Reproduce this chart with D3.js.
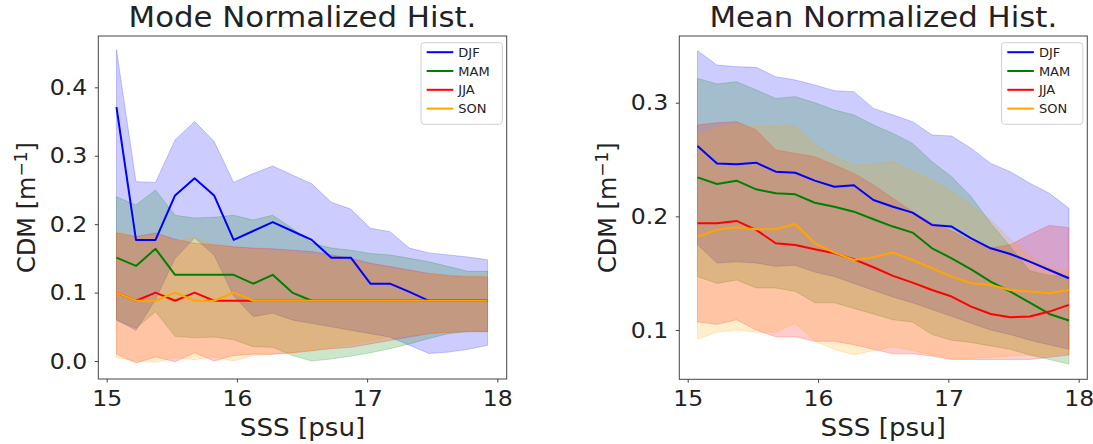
<!DOCTYPE html>
<html><head><meta charset="utf-8">
<script src="https://cdn.jsdelivr.net/npm/d3@7"></script>
<style>
body{margin:0;background:#fff}
svg{display:block}
text{font-family:"DejaVu Sans",sans-serif;fill:#222}
</style>
</head><body>
<svg id="c" width="1093" height="444"></svg>
<script>
// ---------- data ----------
const sss = [15.075,15.225,15.375,15.525,15.675,15.825,15.975,16.125,16.275,16.425,16.575,16.725,16.875,17.025,17.175,17.325,17.475,17.625,17.775,17.925];
const seasons = ["DJF","MAM","JJA","SON"];
const seasonColors = ["#0000ff","#008000","#ff0000","#ffa500"];
const xTicks = [15,16,17,18];
const modeTicks = [0.0,0.1,0.2,0.3,0.4];
const meanTicks = [0.1,0.2,0.3];

// Mode normalized histogram
const modeDJF   = [0.371,0.177,0.177,0.242,0.267,0.242,0.177,0.190,0.203,0.190,0.177,0.151,0.151,0.113,0.113,0.101,0.088,0.088,0.088,0.088];
const modeDJFhi = [0.455,0.262,0.261,0.323,0.350,0.321,0.261,0.274,0.285,0.272,0.259,0.232,0.222,0.194,0.189,0.165,0.158,0.155,0.152,0.148];
const modeDJFlo = [0.060,0.045,0.090,0.150,0.180,0.155,0.095,0.065,0.070,0.060,0.055,0.050,0.045,0.040,0.035,0.023,0.011,0.013,0.017,0.023];
const modeMAM   = [0.151,0.139,0.164,0.126,0.126,0.126,0.126,0.113,0.126,0.100,0.088,0.088,0.088,0.088,0.088,0.088,0.088,0.088,0.088,0.088];
const modeMAMhi = [0.240,0.228,0.250,0.213,0.209,0.210,0.213,0.206,0.213,0.194,0.172,0.165,0.162,0.157,0.155,0.150,0.145,0.138,0.131,0.131];
const modeMAMlo = [0.060,0.048,0.072,0.036,0.034,0.035,0.031,0.021,0.020,0.008,0.000,0.003,0.007,0.012,0.018,0.025,0.033,0.040,0.043,0.043];
const modeJJA   = [0.100,0.088,0.100,0.088,0.100,0.088,0.088,0.088,0.088,0.088,0.088,0.088,0.088,0.088,0.088,0.088,0.088,0.088,0.088,0.088];
const modeJJAhi = [0.187,0.182,0.187,0.178,0.172,0.170,0.167,0.165,0.164,0.162,0.160,0.155,0.150,0.143,0.138,0.133,0.128,0.125,0.123,0.123];
const modeJJAlo = [0.010,-0.003,0.006,-0.001,0.012,0.000,0.008,0.010,0.010,0.012,0.015,0.018,0.020,0.025,0.030,0.035,0.040,0.042,0.043,0.043];
const modeSON   = [0.100,0.088,0.088,0.100,0.088,0.088,0.100,0.088,0.088,0.088,0.088,0.088,0.088,0.088,0.088,0.088,0.088,0.088,0.088,0.088];
const modeSONhi = [0.190,0.180,0.185,0.175,0.180,0.170,0.165,0.163,0.160,0.158,0.155,0.150,0.145,0.140,0.135,0.130,0.127,0.125,0.125,0.126];
const modeSONlo = [0.005,0.000,-0.002,0.005,0.002,0.006,0.000,0.008,0.010,0.012,0.015,0.020,0.025,0.030,0.035,0.038,0.040,0.042,0.043,0.043];

// Mean normalized histogram
const meanDJF   = [0.262,0.2466,0.2458,0.2472,0.2393,0.2384,0.2314,0.2261,0.2273,0.2144,0.2085,0.2033,0.1924,0.191,0.1807,0.1719,0.1669,0.1602,0.1528,0.1455];
const meanDJFhi = [0.3457,0.3331,0.3317,0.3311,0.3229,0.320,0.3156,0.3106,0.3097,0.295,0.2892,0.2833,0.2716,0.2707,0.2598,0.2466,0.2393,0.2291,0.2203,0.2071];
const meanDJFlo = [0.175,0.159,0.160,0.159,0.156,0.157,0.151,0.147,0.141,0.135,0.129,0.124,0.118,0.112,0.106,0.100,0.096,0.091,0.087,0.083];
const meanMAM   = [0.2343,0.2285,0.2314,0.2238,0.2203,0.2194,0.212,0.2085,0.2041,0.1974,0.191,0.1857,0.1719,0.1631,0.1534,0.1426,0.1338,0.1241,0.1141,0.1083];
const meanMAMhi = [0.3214,0.3165,0.3185,0.3112,0.3038,0.3053,0.300,0.2936,0.2892,0.2804,0.273,0.2642,0.2481,0.2349,0.2173,0.1939,0.1734,0.152,0.148,0.147];
const meanMAMlo = [0.147,0.141,0.144,0.137,0.137,0.134,0.124,0.124,0.119,0.114,0.109,0.107,0.096,0.091,0.089,0.086,0.083,0.078,0.074,0.070];
const meanJJA   = [0.1939,0.1939,0.196,0.1881,0.1763,0.1748,0.171,0.1675,0.1622,0.1552,0.1476,0.1417,0.1352,0.1294,0.1206,0.1141,0.1112,0.1118,0.1162,0.1221];
const meanJJAhi = [0.2804,0.2824,0.2833,0.276,0.2584,0.2554,0.2525,0.2452,0.2378,0.2276,0.2159,0.2041,0.1939,0.187,0.178,0.172,0.175,0.184,0.192,0.190];
const meanJJAlo = [0.107,0.105,0.109,0.100,0.094,0.094,0.090,0.090,0.087,0.083,0.079,0.079,0.077,0.074,0.074,0.074,0.074,0.074,0.076,0.078];
const meanSON   = [0.1821,0.1881,0.1904,0.1886,0.1886,0.1933,0.1763,0.1681,0.1616,0.164,0.1681,0.1616,0.1543,0.147,0.1411,0.1396,0.1352,0.1338,0.1323,0.1352];
const meanSONhi = [0.272,0.278,0.281,0.279,0.279,0.280,0.263,0.253,0.245,0.246,0.248,0.240,0.232,0.222,0.210,0.197,0.180,0.165,0.155,0.152];
const meanSONlo = [0.092,0.098,0.100,0.098,0.098,0.106,0.090,0.083,0.078,0.082,0.085,0.082,0.078,0.075,0.075,0.076,0.077,0.078,0.078,0.080];

// ---------- drawing ----------
const svg = d3.select("#c");

// the reference text is slightly wider than DejaVu at its height: stretch horizontally
function stretch(sel, f) {
  sel.each(function() {
    const w = this.getComputedTextLength();
    d3.select(this).attr("textLength", w * f).attr("lengthAdjust", "spacingAndGlyphs");
  });
}

function panel(cfg) {
  const {left, right, top, bottom, xDomain, yDomain, yTicks, title, series, id} = cfg;
  const x = d3.scaleLinear().domain(xDomain).range([left, right]);
  const y = d3.scaleLinear().domain(yDomain).range([bottom, top]);
  const g = svg.append("g");

  g.append("clipPath").attr("id", id).append("rect")
    .attr("x", left).attr("y", top).attr("width", right - left).attr("height", bottom - top);
  const plot = g.append("g").attr("clip-path", `url(#${id})`);

  const area = (lo, hi) => d3.area()
    .x((d, i) => x(sss[i])).y0((d, i) => y(lo[i])).y1((d, i) => y(hi[i]))(sss);
  const line = vals => d3.line().x((d, i) => x(sss[i])).y((d, i) => y(vals[i]))(sss);

  series.forEach((s, k) => {
    plot.append("path").attr("d", area(s.lo, s.hi))
      .attr("fill", seasonColors[k]).attr("fill-opacity", 0.2)
      .attr("stroke", seasonColors[k]).attr("stroke-opacity", 0.2).attr("stroke-width", 1);
  });
  series.forEach((s, k) => {
    plot.append("path").attr("d", line(s.mid))
      .attr("fill", "none").attr("stroke", seasonColors[k])
      .attr("stroke-width", 2).attr("stroke-linejoin", "round");
  });

  // frame
  g.append("rect").attr("x", left).attr("y", top).attr("width", right - left).attr("height", bottom - top)
    .attr("fill", "none").attr("stroke", "#444").attr("stroke-width", 1);

  // axes
  const xa = g.append("g").attr("transform", `translate(0,${bottom})`)
    .call(d3.axisBottom(x).tickValues(xTicks).tickFormat(d3.format("d")).tickSize(3.5).tickPadding(7.5));
  const ya = g.append("g").attr("transform", `translate(${left},0)`)
    .call(d3.axisLeft(y).tickValues(yTicks).tickFormat(d3.format(".1f")).tickSize(3.5).tickPadding(7.5));
  [xa, ya].forEach(a => {
    a.select(".domain").remove();
    a.selectAll(".tick line").attr("stroke", "#444");
    a.selectAll(".tick text").attr("font-size", 22).attr("font-family", "DejaVu Sans").attr("fill", "#222");
    stretch(a.selectAll(".tick text"), 1.07);
  });

  const cx = (left + right) / 2, cy = (top + bottom) / 2;
  const t = g.append("text").attr("x", cx).attr("y", 27).attr("text-anchor", "middle")
    .attr("font-size", 28).text(title);
  stretch(t, 1.1);
  const xl = g.append("text").attr("x", cx).attr("y", 436).attr("text-anchor", "middle")
    .attr("font-size", 24).text("SSS [psu]");
  stretch(xl, 1.09);
  const yl = g.append("text").attr("transform", `translate(${left - 63.3},${cy}) rotate(-90)`)
    .attr("text-anchor", "middle").attr("font-size", 24);
  yl.append("tspan").text("CDM [m");
  yl.append("tspan").attr("dy", "-0.45em").attr("font-size", 17).text("\u22121");
  yl.append("tspan").attr("dy", "0.32em").text("]");

  // legend
  const lx = right - 85.7, ly = top + 6.7;
  const lg = g.append("g");
  lg.append("rect").attr("x", lx).attr("y", ly).attr("width", 81.3).attr("height", 81.6)
    .attr("rx", 3).attr("fill", "#fff").attr("fill-opacity", 0.8).attr("stroke", "#d0d0d0");
  seasons.forEach((s, k) => {
    const yy = ly + 9.5 + k * 18.8;
    lg.append("line").attr("x1", lx + 5.7).attr("x2", lx + 32.3).attr("y1", yy).attr("y2", yy)
      .attr("stroke", seasonColors[k]).attr("stroke-width", 2);
    lg.append("text").attr("x", lx + 37.3).attr("y", yy).attr("dy", "0.36em")
      .attr("font-size", 13).text(s);
  });
}

panel({
  id: "clipA", left: 98.3, right: 506.7, top: 36, bottom: 379,
  xDomain: [14.9355, 18.072], yDomain: [-0.0263, 0.475], yTicks: modeTicks,
  title: "Mode Normalized Hist.",
  series: [
    {mid: modeDJF, lo: modeDJFlo, hi: modeDJFhi},
    {mid: modeMAM, lo: modeMAMlo, hi: modeMAMhi},
    {mid: modeJJA, lo: modeJJAlo, hi: modeJJAhi},
    {mid: modeSON, lo: modeSONlo, hi: modeSONhi}
  ]
});
panel({
  id: "clipB", left: 679.3, right: 1087.3, top: 36, bottom: 379.3,
  xDomain: [14.9355, 18.066], yDomain: [0.0566, 0.3587], yTicks: meanTicks,
  title: "Mean Normalized Hist.",
  series: [
    {mid: meanDJF, lo: meanDJFlo, hi: meanDJFhi},
    {mid: meanMAM, lo: meanMAMlo, hi: meanMAMhi},
    {mid: meanJJA, lo: meanJJAlo, hi: meanJJAhi},
    {mid: meanSON, lo: meanSONlo, hi: meanSONhi}
  ]
});
</script>
</body></html>
